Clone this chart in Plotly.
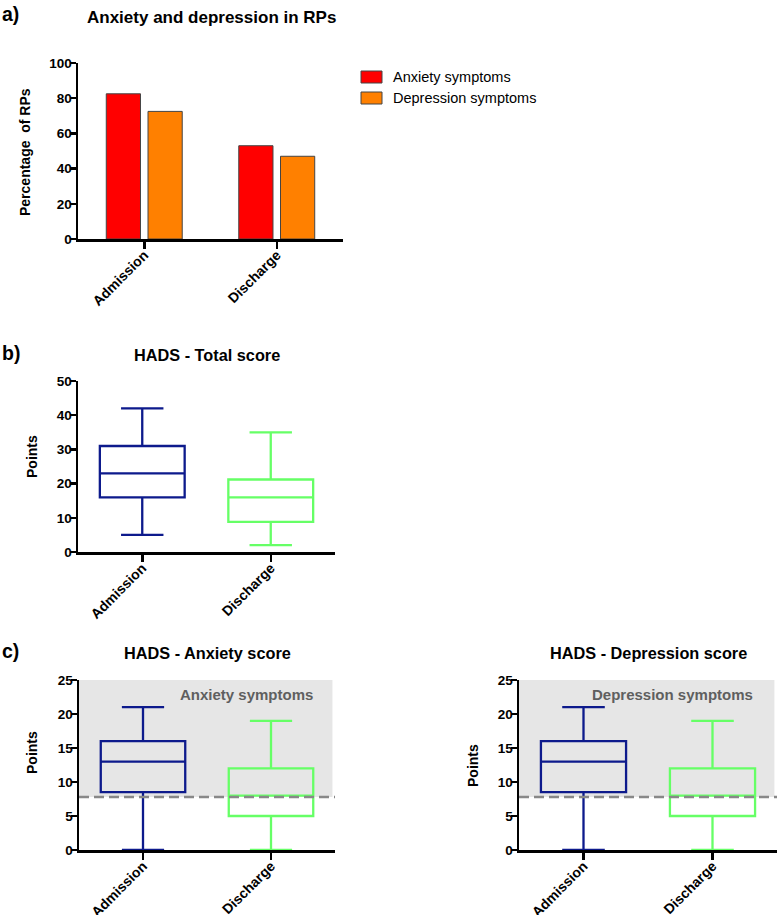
import plotly.graph_objects as go

# ---------------- data ----------------
categories = ["Admission", "Discharge"]
series_names = ["Anxiety symptoms", "Depression symptoms"]
anxiety_pct = [82.5, 53.0]
depression_pct = [72.5, 47.0]

total_min = [5, 2]
total_q1 = [16, 8.8]
total_median = [23, 16]
total_q3 = [31, 21.2]
total_max = [42, 35]

anx_min = [0, 0]
anx_q1 = [8.5, 5]
anx_median = [13, 8]
anx_q3 = [16, 12]
anx_max = [21, 19]

dep_min = [0, 0]
dep_q1 = [8.5, 5]
dep_median = [13, 8]
dep_q3 = [16, 12]
dep_max = [21, 19]

cutoff = 7.8
yticks_a = [0, 20, 40, 60, 80, 100]
yticks_b = [0, 10, 20, 30, 40, 50]
yticks_c = [0, 5, 10, 15, 20, 25]

# ---------------- style ----------------
FONT = "Liberation Sans, Arial, sans-serif"
bar_colors = ["#ff0000", "#ff8000"]
box_colors = ["#0d1a8c", "#66ff66"]
W, H = 778, 915


def px_x(x):
    return x / W


def px_y(y):
    return (H - y) / H


fig = go.Figure()

# Panel a bars
for name, vals, col in zip(series_names, [anxiety_pct, depression_pct], bar_colors):
    fig.add_trace(go.Bar(x=categories, y=vals, name=name, marker=dict(color=col, line=dict(color="#444444", width=1)),
                         xaxis="x", yaxis="y", showlegend=False, hoverinfo="skip"))

# Box panels
panels = [
    ("x2", "y2", total_min, total_q1, total_median, total_q3, total_max),
    ("x3", "y3", anx_min, anx_q1, anx_median, anx_q3, anx_max),
    ("x4", "y4", dep_min, dep_q1, dep_median, dep_q3, dep_max),
]
for xa, ya, mn, q1, md, q3, mx in panels:
    for i, cat in enumerate(categories):
        fig.add_trace(go.Box(
            x=[cat], lowerfence=[mn[i]], q1=[q1[i]], median=[md[i]], q3=[q3[i]], upperfence=[mx[i]],
            xaxis=xa, yaxis=ya, line=dict(color=box_colors[i], width=2.3),
            fillcolor="rgba(0,0,0,0)", width=0.66, whiskerwidth=0.5, boxpoints=False,
            showlegend=False, hoverinfo="skip",
        ))

axis_common = dict(showgrid=False, zeroline=False, showline=True, linecolor="black", linewidth=2.5,
                   ticks="outside", tickcolor="black", tickwidth=2.5, ticklen=6, automargin=False,
                   ticklabelstandoff=-5,
                   tickfont=dict(family=FONT, size=13.5, color="black", weight="bold"))

xcommon = dict(axis_common, type="category", categoryorder="array", categoryarray=categories,
               range=[-0.5, 1.5], tickangle=-45, ticklen=7, ticklabelstandoff=-7,
               tickfont=dict(family=FONT, size=14, color="black", weight="bold"))

layout = dict(
    width=W, height=H, margin=dict(l=0, r=0, t=0, b=0, autoexpand=False),
    paper_bgcolor="white", plot_bgcolor="rgba(0,0,0,0)",
    barmode="group", bargap=0.37, bargroupgap=0.18,
    showlegend=False, hovermode=False,
    xaxis=dict(xcommon, domain=[px_x(78), px_x(343)], anchor="y"),
    yaxis=dict(axis_common, domain=[px_y(239), px_y(63)], range=[0, 100], tickvals=yticks_a, anchor="x"),
    xaxis2=dict(xcommon, domain=[px_x(78), px_x(335)], anchor="y2"),
    yaxis2=dict(axis_common, domain=[px_y(552), px_y(381)], range=[0, 50], tickvals=yticks_b, anchor="x2"),
    xaxis3=dict(xcommon, domain=[px_x(79), px_x(335)], anchor="y3", layer="below traces"),
    yaxis3=dict(axis_common, domain=[px_y(850), px_y(680)], range=[0, 25], tickvals=yticks_c, anchor="x3"),
    xaxis4=dict(xcommon, domain=[px_x(519), px_x(777)], anchor="y4", layer="below traces"),
    yaxis4=dict(axis_common, domain=[px_y(850), px_y(680)], range=[0, 25], tickvals=yticks_c, anchor="x4"),
)
fig.update_layout(**layout)

shapes = []
annotations = []
# shaded symptom regions + cutoff lines
for xa, ya in [("x3", "y3"), ("x4", "y4")]:
    shapes.append(dict(type="rect", xref=f"{xa} domain", yref=ya, x0=0, x1=0.99, y0=cutoff, y1=25,
                       fillcolor="#e6e6e6", line=dict(width=0), layer="below"))
    shapes.append(dict(type="line", xref=f"{xa} domain", yref=ya, x0=0, x1=1, y0=cutoff, y1=cutoff,
                       line=dict(color="#888888", width=2.5, dash="10px,5px"), layer="above"))

annotations.append(dict(text="Anxiety symptoms", xref="x3", yref="y3", x=0.806, y=22.9, showarrow=False,
                        font=dict(family=FONT, size=15, color="#5f5f5f", weight="bold")))
annotations.append(dict(text="Depression symptoms", xref="x4", yref="y4", x=0.69, y=22.9, showarrow=False,
                        font=dict(family=FONT, size=15, color="#5f5f5f", weight="bold")))

# custom legend
for i, (name, col) in enumerate(zip(series_names, bar_colors)):
    yc = 77 + 21 * i
    shapes.append(dict(type="rect", xref="paper", yref="paper", x0=px_x(361), x1=px_x(382),
                       y0=px_y(yc + 6), y1=px_y(yc - 6), fillcolor=col, line=dict(color="#444444", width=1)))
    annotations.append(dict(text=name, xref="paper", yref="paper", x=px_x(391), y=px_y(yc), xanchor="left",
                            yanchor="middle", showarrow=False, font=dict(family=FONT, size=14.5, color="black")))

# titles
titles = [("Anxiety and depression in RPs", 212, 18, 17), ("HADS - Total score", 207, 355, 16.3),
          ("HADS - Anxiety score", 207, 653, 16.3), ("HADS - Depression score", 648, 653, 16.3)]
for t, x, y, s in titles:
    annotations.append(dict(text=t, xref="paper", yref="paper", x=px_x(x), y=px_y(y), xanchor="center",
                            yanchor="middle", showarrow=False, font=dict(family=FONT, size=s, color="black", weight="bold")))

# panel labels
for t, y in [("a)", 14), ("b)", 353), ("c)", 651)]:
    annotations.append(dict(text=t, xref="paper", yref="paper", x=0, y=px_y(y), xanchor="left", yanchor="middle",
                            showarrow=False, font=dict(family=FONT, size=19.5, color="black", weight="bold")))

# y-axis titles
for t, x, y in [("Percentage  of RPs", 25, 152), ("Points", 32, 456), ("Points", 32, 752), ("Points", 473, 765)]:
    annotations.append(dict(text=t, xref="paper", yref="paper", x=px_x(x), y=px_y(y), xanchor="center",
                            yanchor="middle", textangle=-90, showarrow=False,
                            font=dict(family=FONT, size=14, color="black", weight="bold")))

fig.update_layout(shapes=shapes, annotations=annotations)
fig.write_html("out.html", config={"displayModeBar": False, "staticPlot": True},
               post_script="document.body.style.margin='0';document.body.style.overflow='hidden';")
